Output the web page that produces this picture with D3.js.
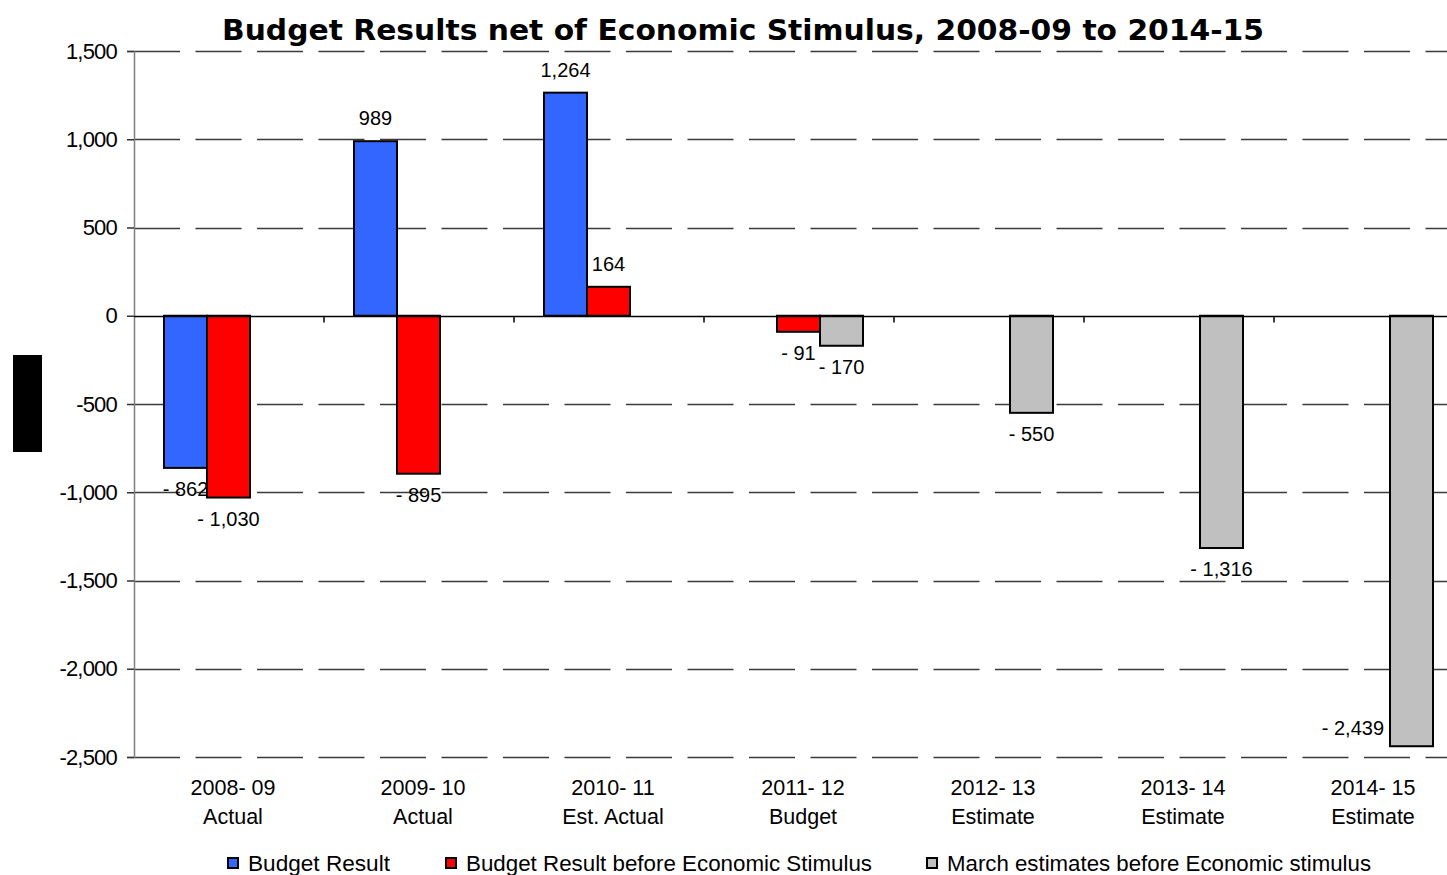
<!DOCTYPE html>
<html>
<head>
<meta charset="utf-8">
<script src="https://cdn.jsdelivr.net/npm/d3@7"></script>
<style>
  html, body { margin: 0; padding: 0; background: #fff; }
  svg { display: block; }
  text { font-family: "Liberation Sans", Arial, sans-serif; fill: #000; }
</style>
</head>
<body>
<svg id="chart" width="1447" height="875"></svg>
<script>
// Financial years and their status
const years = ["2008- 09", "2009- 10", "2010- 11", "2011- 12", "2012- 13", "2013- 14", "2014- 15"];
const stages = ["Actual", "Actual", "Est. Actual", "Budget", "Estimate", "Estimate", "Estimate"];

// Series ($m); null where a series has no value for that year
const seriesNames = ["Budget Result", "Budget Result before Economic Stimulus", "March estimates before Economic stimulus"];
const budgetResult = [-862, 989, 1264, null, null, null, null];
const beforeStimulus = [-1030, -895, 164, -91, null, null, null];
const marchEstimates = [null, null, null, -170, -550, -1316, -2439];

const yTicks = [1500, 1000, 500, 0, -500, -1000, -1500, -2000, -2500];
const seriesColors = ["#3366FF", "#FF0000", "#C0C0C0"];

const svg = d3.select("#chart");
const W = 1447, H = 875;

const plot = { left: 134, top: 51, bottom: 757, bandWidth: 190 };
const plotRight = plot.left + plot.bandWidth * years.length;

const x = d3.scaleBand()
  .domain(d3.range(years.length))
  .range([plot.left, plotRight])
  .paddingInner(0)
  .paddingOuter(0);

const inner = d3.scaleBand()
  .domain(d3.range(seriesNames.length))
  .range([30, plot.bandWidth - 31])
  .padding(0);

const y = d3.scaleLinear().domain([-2500, 1500]).range([plot.bottom, plot.top]);

// Thousands separator with a plain hyphen for negatives
const fmt = v => (v < 0 ? "-" : "") + d3.format(",")(Math.abs(v));

// Horizontal dashed gridlines
const grid = svg.append("g");
grid.selectAll("line")
  .data(yTicks.filter(v => v !== 0))
  .join("line")
  .attr("x1", plot.left).attr("x2", W)
  .attr("y1", d => Math.round(y(d)) + 0.5).attr("y2", d => Math.round(y(d)) + 0.5)
  .attr("stroke", "#3a3a3a")
  .attr("stroke-width", 1.5)
  .attr("stroke-dasharray", "46,15.5");

// Y axis
const yAxis = d3.axisLeft(y)
  .tickValues(yTicks)
  .tickSize(7)
  .tickPadding(10)
  .tickFormat(fmt);
const yG = svg.append("g")
  .attr("transform", `translate(${plot.left},0)`)
  .call(yAxis);
yG.select(".domain").attr("stroke", "#808080").attr("stroke-width", 1.5);
yG.selectAll(".tick line").attr("stroke", "#333").attr("stroke-width", 1.5);
yG.selectAll(".tick text")
  .style("font-family", "'Liberation Sans', Arial, sans-serif")
  .style("font-size", "22px")
  .style("letter-spacing", "-0.8px")
  .attr("fill", "#000");

// Bars
const series = [budgetResult, beforeStimulus, marchEstimates];
const bars = [];
series.forEach((vals, s) => {
  vals.forEach((v, i) => {
    if (v !== null) bars.push({ s, i, v });
  });
});

svg.append("g").selectAll("rect")
  .data(bars)
  .join("rect")
  .attr("x", d => x(d.i) + inner(d.s))
  .attr("width", inner.bandwidth())
  .attr("y", d => y(Math.max(0, d.v)))
  .attr("height", d => Math.abs(y(d.v) - y(0)))
  .attr("fill", d => seriesColors[d.s])
  .attr("stroke", "#000")
  .attr("stroke-width", 2);

// Zero line with category ticks
const zeroY = Math.round(y(0)) + 0.5;
svg.append("line")
  .attr("x1", plot.left).attr("x2", W)
  .attr("y1", zeroY).attr("y2", zeroY)
  .attr("stroke", "#000").attr("stroke-width", 1.5);
svg.append("g").selectAll("line")
  .data(d3.range(1, years.length))
  .join("line")
  .attr("x1", i => x(i)).attr("x2", i => x(i))
  .attr("y1", zeroY).attr("y2", zeroY + 6)
  .attr("stroke", "#000").attr("stroke-width", 1.5);

// Value labels
const labelText = v => (v < 0 ? "- " + d3.format(",")(-v) : d3.format(",")(v));
svg.append("g").selectAll("text")
  .data(bars)
  .join("text")
  .each(function (d) {
    const cx = x(d.i) + inner(d.s) + inner.bandwidth() / 2;
    const end = y(d.v);
    const t = d3.select(this);
    if (d.v >= 0) {
      t.attr("x", cx).attr("y", end - 16).attr("text-anchor", "middle");
    } else if (end + 30 > plot.bottom) {
      t.attr("x", x(d.i) + inner(d.s) - 6).attr("y", end - 11).attr("text-anchor", "end");
    } else {
      t.attr("x", cx).attr("y", end + 28).attr("text-anchor", "middle");
    }
  })
  .style("font-size", "20px")
  .text(d => labelText(d.v));

// Category labels
const cat = svg.append("g").selectAll("text")
  .data(d3.range(years.length))
  .join("text")
  .attr("text-anchor", "middle")
  .style("font-size", "21.5px");
cat.append("tspan").attr("x", i => x(i) + x.bandwidth() / 2 + 4).attr("y", 795).text(i => years[i]);
cat.append("tspan").attr("x", i => x(i) + x.bandwidth() / 2 + 4).attr("y", 824).text(i => stages[i]);

// Title
svg.append("text")
  .attr("x", 743).attr("y", 40)
  .attr("text-anchor", "middle")
  .attr("textLength", 1042)
  .attr("lengthAdjust", "spacingAndGlyphs")
  .style("font-family", "'DejaVu Sans', sans-serif")
  .style("font-weight", "bold")
  .style("font-size", "28px")
  .text("Budget Results net of Economic Stimulus, 2008-09 to 2014-15");

// Axis title block
svg.append("rect")
  .attr("x", 13).attr("y", 355)
  .attr("width", 29).attr("height", 97)
  .attr("fill", "#000");

// Legend
const legendX = [228, 446, 927];
const legendTextWidth = [142, 406, 424];
const legend = svg.append("g").selectAll("g")
  .data(seriesNames)
  .join("g")
  .attr("transform", (d, i) => `translate(${legendX[i]},858)`);
legend.append("rect")
  .attr("width", 10).attr("height", 10)
  .attr("fill", (d, i) => seriesColors[i])
  .attr("stroke", "#000").attr("stroke-width", 2);
legend.append("text")
  .attr("x", 20)
  .attr("y", 13)
  .attr("textLength", (d, i) => legendTextWidth[i])
  .attr("lengthAdjust", "spacingAndGlyphs")
  .style("font-size", "22px")
  .text(d => d);
</script>
</body>
</html>
